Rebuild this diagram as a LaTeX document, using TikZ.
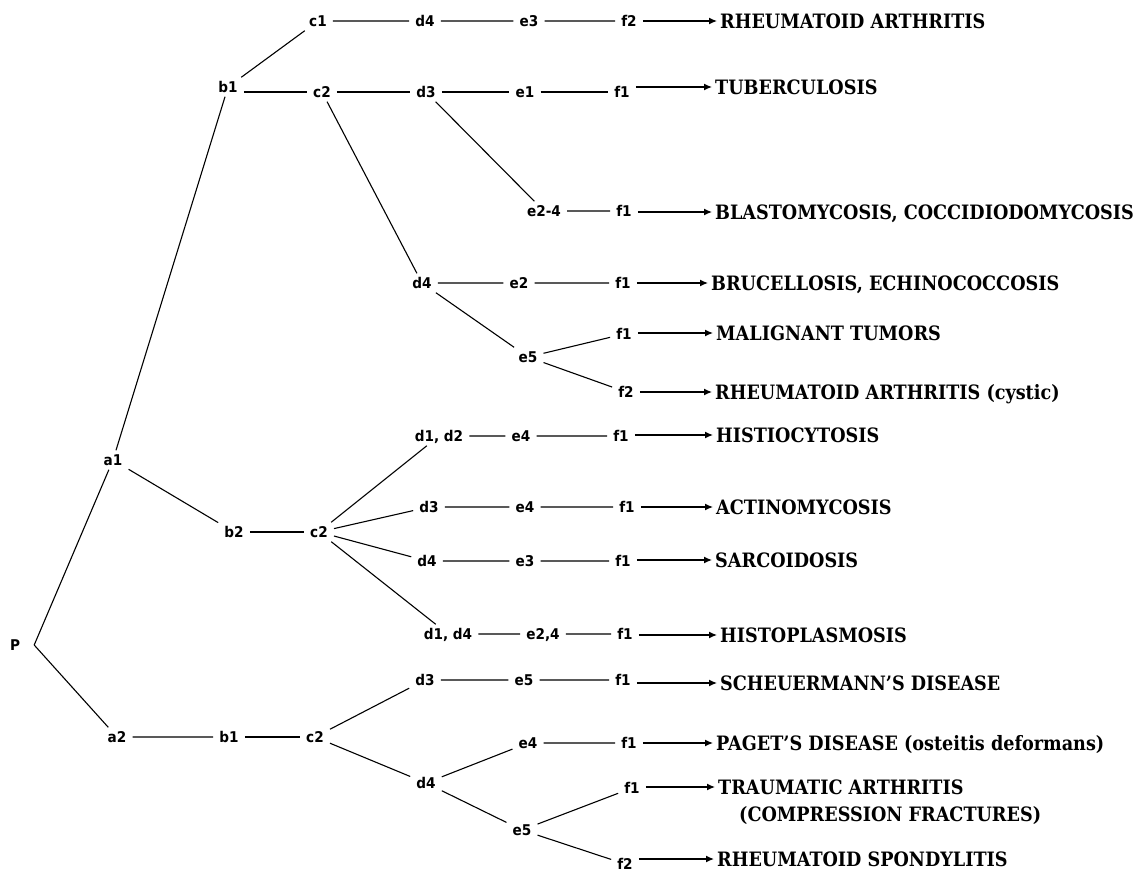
\documentclass[tikz,border=0pt]{standalone}
\usepackage{fontspec}
\usetikzlibrary{arrows.meta}
\newfontfamily\lblfont{DejaVu Sans}[FakeStretch=0.92]
\newfontfamily\dxfont{DejaVu Serif}[FakeStretch=0.89]
\tikzset{
  lbl/.style={inner xsep=6pt, inner ysep=4pt, text height=11pt, text depth=0pt, font=\lblfont\bfseries\fontsize{14.8}{17}\selectfont},
  dx/.style={anchor=west, inner xsep=3pt, inner ysep=0pt, text height=14.5pt, text depth=0pt, font=\dxfont\bfseries\fontsize{19.8}{24}\selectfont},
  conn/.style={line width=1.1pt},
  arr/.style={line width=1.3pt, -{Latex[length=8pt,width=7pt]}},
}
\begin{document}
\begin{tikzpicture}[x=1pt, y=-1pt]
\useasboundingbox (0,0) rectangle (1137,873);
% root
\node[lbl, inner xsep=14pt] (P) at (15,645) {P};
\node[lbl] (a1) at (113,460) {a1};
\node[lbl] (a2) at (117,737) {a2};
% a1 -- b1 branch
\node[lbl] (b1) at (228,87) {b1};
\node[lbl] (c1) at (318,21) {c1};
\node[lbl] (d4A) at (425,21) {d4};
\node[lbl] (e3A) at (529,21) {e3};
\node[lbl] (f2A) at (629,21) {f2};
\node[dx] (t1) at (717,21) {RHEUMATOID ARTHRITIS};
\node[lbl] (c2) at (322,92) {c2};
\node[lbl] (d3B) at (426,92) {d3};
\node[lbl] (e1B) at (525,92) {e1};
\node[lbl] (f1B) at (622,92) {f1};
\node[dx] (t2) at (712,87) {TUBERCULOSIS};
\node[lbl] (e24C) at (544,211) {e2-4};
\node[lbl] (f1C) at (624,211) {f1};
\node[dx] (t3) at (712,212) {BLASTOMYCOSIS, COCCIDIODOMYCOSIS};
\node[lbl] (d4D) at (422,283) {d4};
\node[lbl] (e2D) at (519,283) {e2};
\node[lbl] (f1D) at (623,283) {f1};
\node[dx] (t4) at (708,283) {BRUCELLOSIS, ECHINOCOCCOSIS};
\node[lbl] (e5E) at (528,357) {e5};
\node[lbl] (f1E) at (624,334) {f1};
\node[dx] (t5) at (713,333) {MALIGNANT TUMORS};
\node[lbl] (f2F) at (626,392) {f2};
\node[dx] (t6) at (712,392) {RHEUMATOID ARTHRITIS (cystic)};
% a1 -- b2 branch
\node[lbl] (b2) at (234,532) {b2};
\node[lbl] (c2G) at (319,532) {c2};
\node[lbl] (d12G) at (439,436) {d1, d2};
\node[lbl] (e4G) at (521,436) {e4};
\node[lbl] (f1G) at (621,436) {f1};
\node[dx] (t7) at (713,435) {HISTIOCYTOSIS};
\node[lbl] (d3H) at (429,507) {d3};
\node[lbl] (e4H) at (525,507) {e4};
\node[lbl] (f1H) at (627,507) {f1};
\node[dx] (t8) at (713,507) {ACTINOMYCOSIS};
\node[lbl] (d4I) at (427,561) {d4};
\node[lbl] (e3I) at (525,561) {e3};
\node[lbl] (f1I) at (623,561) {f1};
\node[dx] (t9) at (712,560) {SARCOIDOSIS};
\node[lbl] (d14J) at (448,634) {d1, d4};
\node[lbl] (e24J) at (543,634) {e2,4};
\node[lbl] (f1J) at (625,634) {f1};
\node[dx] (t10) at (717,635) {HISTOPLASMOSIS};
% a2 branch
\node[lbl] (b1K) at (229,737) {b1};
\node[lbl] (c2K) at (315,737) {c2};
\node[lbl] (d3K) at (425,680) {d3};
\node[lbl] (e5K) at (524,680) {e5};
\node[lbl] (f1K) at (623,680) {f1};
\node[dx] (t11) at (717,683) {SCHEUERMANN’S DISEASE};
\node[lbl] (d4L) at (426,783) {d4};
\node[lbl] (e4L) at (528,743) {e4};
\node[lbl] (f1L) at (629,743) {f1};
\node[dx] (t12) at (713,743) {PAGET’S DISEASE (osteitis deformans)};
\node[lbl] (e5M) at (522,830) {e5};
\node[lbl] (f1M) at (632,788) {f1};
\node[dx] (t13) at (715,787) {TRAUMATIC ARTHRITIS};
\node[dx] (t13b) at (736,814) {(COMPRESSION FRACTURES)};
\node[lbl] (f2N) at (625,864) {f2};
\node[dx] (t14) at (714,859) {RHEUMATOID SPONDYLITIS};
% connectors
\draw[conn] (P.east) -- (a1) (P.east) -- (a2);
\draw[conn] (a1) -- (b1) (a1) -- (b2) (a2) -- (b1K);
\draw[conn] (b1) -- (c1) -- (d4A) -- (e3A) -- (f2A);
\draw[conn] (b1.east |- c2.west) -- (c2) -- (d3B) -- (e1B) -- (f1B);
\draw[conn] (d3B) -- (e24C) -- (f1C);
\draw[conn] (c2) -- (d4D) -- (e2D) -- (f1D);
\draw[conn] (d4D) -- (e5E) -- (f1E) (e5E) -- (f2F);
\draw[conn] (b2) -- (c2G);
\draw[conn] (c2G) -- (d12G) -- (e4G) -- (f1G);
\draw[conn] (c2G) -- (d3H) -- (e4H) -- (f1H);
\draw[conn] (c2G) -- (d4I) -- (e3I) -- (f1I);
\draw[conn] (c2G) -- (d14J) -- (e24J) -- (f1J);
\draw[conn] (b1K) -- (c2K);
\draw[conn] (c2K) -- (d3K) -- (e5K) -- (f1K);
\draw[conn] (c2K) -- (d4L) -- (e4L) -- (f1L);
\draw[conn] (d4L) -- (e5M) -- (f1M) (e5M) -- (f2N);
% arrows to diagnoses
\draw[arr] (f2A.east |- t1.west) -- (t1.west);
\draw[arr] (f1B.east |- t2.west) -- (t2.west);
\draw[arr] (f1C.east |- t3.west) -- (t3.west);
\draw[arr] (f1D.east |- t4.west) -- (t4.west);
\draw[arr] (f1E.east |- t5.west) -- (t5.west);
\draw[arr] (f2F.east |- t6.west) -- (t6.west);
\draw[arr] (f1G.east |- t7.west) -- (t7.west);
\draw[arr] (f1H.east |- t8.west) -- (t8.west);
\draw[arr] (f1I.east |- t9.west) -- (t9.west);
\draw[arr] (f1J.east |- t10.west) -- (t10.west);
\draw[arr] (f1K.east |- t11.west) -- (t11.west);
\draw[arr] (f1L.east |- t12.west) -- (t12.west);
\draw[arr] (f1M.east |- t13.west) -- (t13.west);
\draw[arr] (f2N.east |- t14.west) -- (t14.west);
\end{tikzpicture}
\end{document}
